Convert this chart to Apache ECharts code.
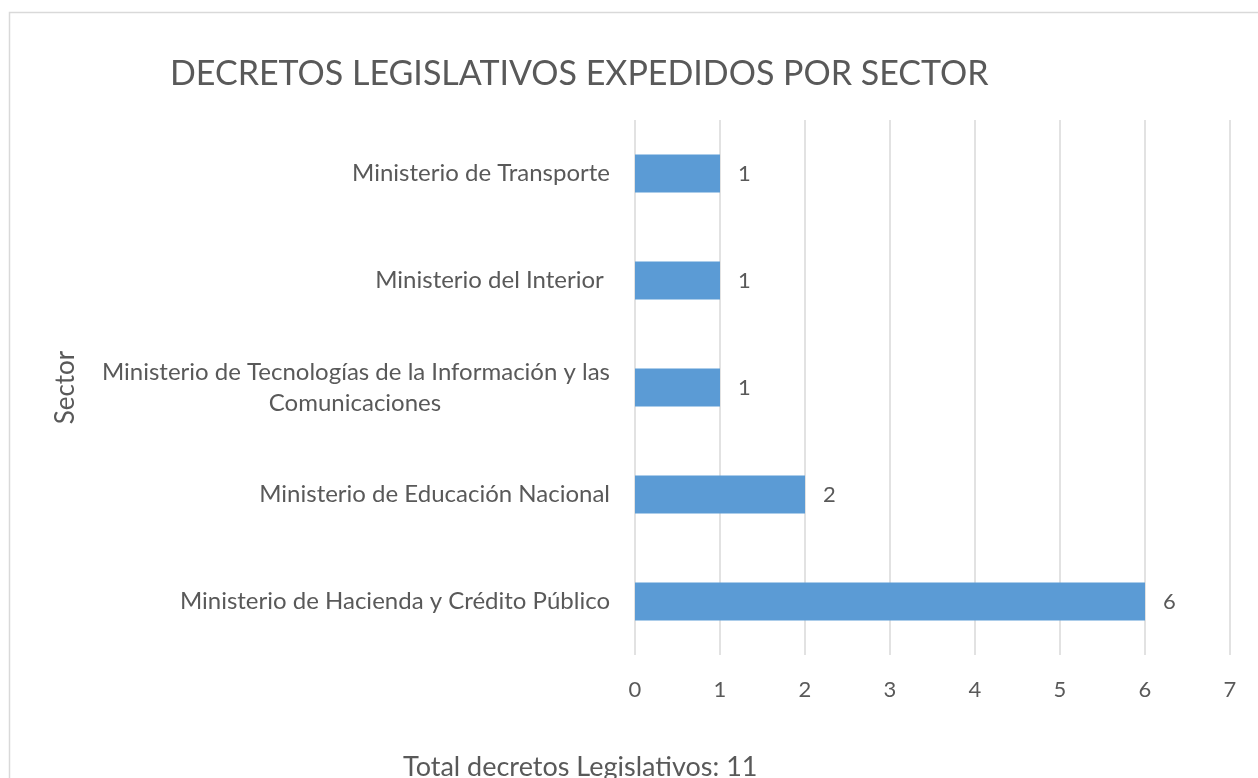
<!DOCTYPE html>
<html>
<head>
<meta charset="utf-8">
<script src="https://cdn.jsdelivr.net/npm/echarts@6/dist/echarts.min.js"></script>
<style>
  html, body { margin: 0; padding: 0; background: #fff; }
  #chart { width: 1258px; height: 778px; }
</style>
</head>
<body>
<div id="chart"></div>
<script>
// data, bottom to top
var sectores = [
  "Ministerio de Hacienda y Crédito Público",
  "Ministerio de Educación Nacional",
  "Ministerio de Tecnologías de la Información y las\nComunicaciones",
  "Ministerio del Interior ",
  "Ministerio de Transporte"
];
var decretos = [6, 2, 1, 1, 1];
var totalDecretos = 11;

var textColor = "#595959";
var fontName = "Lato";

var chart = echarts.init(document.getElementById("chart"), null, { renderer: "canvas" });
var option = {
  animation: false,
  backgroundColor: "#ffffff",
  title: [
    {
      text: "DECRETOS LEGISLATIVOS EXPEDIDOS POR SECTOR",
      left: 165,
      top: 52,
      textStyle: { fontFamily: fontName, fontSize: 34, fontWeight: "normal", color: textColor }
    },
    {
      text: "Total decretos Legislativos: " + totalDecretos,
      left: 398,
      top: 749,
      textStyle: { fontFamily: fontName, fontSize: 27, fontWeight: "normal", color: textColor }
    }
  ],
  graphic: [
    {
      type: "rect",
      shape: { x: 9.5, y: 12.5, width: 1270, height: 800 },
      style: { fill: null, stroke: "#d9d9d9", lineWidth: 1.5 },
      silent: true
    }
  ],
  grid: { left: 635, right: 28, top: 120, bottom: 123, containLabel: false },
  xAxis: {
    type: "value",
    min: 0,
    max: 7,
    interval: 1,
    axisLine: { show: false },
    axisTick: { show: false },
    axisLabel: { margin: 24, fontFamily: fontName, fontSize: 22, color: textColor },
    splitLine: { show: true, lineStyle: { color: "#d9d9d9", width: 1.5 } }
  },
  yAxis: {
    type: "category",
    data: sectores,
    name: "Sector",
    nameLocation: "middle",
    nameGap: 556,
    nameRotate: 90,
    nameTextStyle: { fontFamily: fontName, fontSize: 26, color: textColor },
    axisLine: { show: false },
    axisTick: { show: false },
    axisLabel: {
      margin: 25,
      fontFamily: fontName,
      fontSize: 24,
      color: textColor,
      lineHeight: 31,
      formatter: function (v) {
        var parts = v.split("\n");
        if (parts.length === 1) return v;
        return "{a|" + parts[0] + "}\n{b|" + parts[1] + "}";
      },
      rich: {
        a: { fontFamily: fontName, fontSize: 24, color: textColor, lineHeight: 31 },
        b: { fontFamily: fontName, fontSize: 24, color: textColor, lineHeight: 31, width: 510, align: "center" }
      }
    }
  },
  series: [
    {
      type: "bar",
      data: decretos,
      barWidth: 38,
      itemStyle: { color: "#5b9bd5" },
      label: {
        show: true,
        position: "right",
        distance: 18,
        fontFamily: fontName,
        fontSize: 22,
        color: textColor
      }
    }
  ]
};
chart.setOption(option);
</script>
</body>
</html>
